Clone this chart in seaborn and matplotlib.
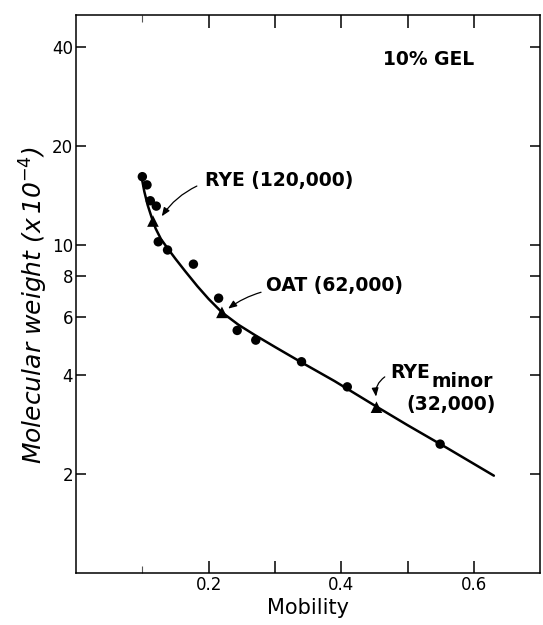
import matplotlib
matplotlib.use("Agg")
import matplotlib.pyplot as plt
import seaborn as sns
import pandas as pd
from matplotlib.ticker import FixedLocator, NullLocator, FixedFormatter

# ---- data ----
pt_mobility = [0.100, 0.107, 0.112, 0.121, 0.124, 0.138, 0.177, 0.215, 0.243, 0.271, 0.340, 0.409, 0.549]
pt_mw = [16.1, 15.2, 13.6, 13.1, 10.2, 9.63, 8.72, 6.87, 5.48, 5.12, 4.40, 3.69, 2.47]

std_names = ["RYE", "OAT", "RYE minor"]
std_mobility = [0.116, 0.220, 0.453]
std_mw = [11.8, 6.22, 3.20]

curve_mobility = [0.099, 0.103, 0.108, 0.114, 0.120, 0.128, 0.138, 0.150, 0.165, 0.183,
                  0.200, 0.220, 0.245, 0.270, 0.300, 0.340, 0.390, 0.450, 0.500, 0.560, 0.630]
curve_mw = [16.0, 14.5, 13.2, 12.1, 11.2, 10.4, 9.75, 9.05, 8.28, 7.47,
            6.83, 6.22, 5.70, 5.30, 4.88, 4.38, 3.84, 3.24, 2.82, 2.40, 1.98]

x_major_ticks = [0.2, 0.3, 0.4, 0.5, 0.6]
x_major_labels = ["0.2", "", "0.4", "", "0.6"]
x_minor_ticks = [0.1]
y_ticks = [2, 4, 6, 8, 10, 20, 40]
y_ticklabels = ["2", "4", "6", "8", "10", "20", "40"]

sns.set_style("ticks")
plt.rcParams["font.family"] = ["DejaVu Sans"]
plt.rcParams["text.color"] = "black"
plt.rcParams["axes.labelcolor"] = "black"
plt.rcParams["xtick.color"] = "black"
plt.rcParams["ytick.color"] = "black"

fig = plt.figure(figsize=(5.43, 6.25), dpi=100)
ax = fig.add_axes([0.140, 0.083, 0.855, 0.893])

df_pts = pd.DataFrame({"mobility": pt_mobility, "mw": pt_mw})
df_std = pd.DataFrame({"mobility": std_mobility, "mw": std_mw, "name": std_names})
df_curve = pd.DataFrame({"mobility": curve_mobility, "mw": curve_mw})

sns.lineplot(data=df_curve, x="mobility", y="mw", sort=False, estimator=None,
             color="black", linewidth=1.8, ax=ax)
sns.scatterplot(data=df_pts, x="mobility", y="mw", color="black", marker="o",
                s=46, edgecolor="none", ax=ax, zorder=3)
sns.scatterplot(data=df_std, x="mobility", y="mw", color="black", marker="^",
                s=70, edgecolor="none", ax=ax, zorder=3)

ax.set_yscale("log")
ax.set_xlim(0, 0.7)
ax.set_ylim(1, 50)

ax.xaxis.set_major_locator(FixedLocator(x_major_ticks))
ax.xaxis.set_major_formatter(FixedFormatter(x_major_labels))
ax.xaxis.set_minor_locator(FixedLocator(x_minor_ticks))
ax.yaxis.set_major_locator(FixedLocator(y_ticks))
ax.yaxis.set_major_formatter(FixedFormatter(y_ticklabels))
ax.yaxis.set_minor_locator(NullLocator())

ax.tick_params(axis="x", which="major", direction="in", length=9, width=1.1,
               top=True, bottom=True, labelsize=12, pad=2, colors="black")
ax.tick_params(axis="x", which="minor", direction="in", length=5, width=0.8,
               top=True, bottom=True, color="#555555")
ax.tick_params(axis="y", which="major", direction="in", length=7, width=1.1,
               left=True, right=True, labelleft=True, labelright=False,
               labelsize=12, pad=2, colors="black")
for s in ax.spines.values():
    s.set_visible(True)
    s.set_linewidth(1.1)
    s.set_color("black")

ax.set_xlabel("Mobility", fontsize=15, labelpad=3, color="black")
ax.set_ylabel(r"Molecular weight (x$\,$10$^{-4}$)", fontsize=18, fontstyle="italic",
              color="black")
ax.yaxis.set_label_coords(-0.055, 0.48)

tkw = dict(fontsize=13.5, color="black", fontweight="bold")
ax.text(0.463, 36.6, "10% GEL", va="center", ha="left", **tkw)
ax.text(0.195, 15.7, "RYE (120,000)", va="center", ha="left", **tkw)
ax.text(0.287, 7.5, "OAT (62,000)", va="center", ha="left", **tkw)
rye = ax.text(0.474, 3.93, "RYE", va="baseline", ha="left", **tkw)
ax.annotate("minor", xy=(1, 0), xycoords=rye, xytext=(1.0, -3.8),
            textcoords="offset points", va="baseline", ha="left", **tkw)
ax.text(0.498, 3.27, "(32,000)", va="center", ha="left", **tkw)

akw = dict(arrowstyle="-|>,head_length=0.5,head_width=0.2", color="black", lw=0.9)
ax.annotate("", xy=(0.127, 12.0), xytext=(0.186, 15.2),
            arrowprops=dict(connectionstyle="arc3,rad=0.15", **akw))
ax.annotate("", xy=(0.226, 6.31), xytext=(0.283, 7.2),
            arrowprops=dict(connectionstyle="arc3,rad=0.1", **akw))
ax.annotate("", xy=(0.453, 3.38), xytext=(0.469, 4.0),
            arrowprops=dict(connectionstyle="arc3,rad=0.35", **akw))

fig.savefig("out.png", dpi=100)
